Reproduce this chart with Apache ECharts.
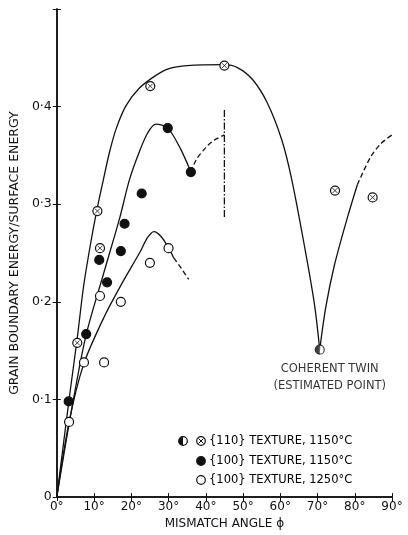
<!DOCTYPE html>
<html>
<head>
<meta charset="utf-8">
<script src="https://cdn.jsdelivr.net/npm/echarts@6/dist/echarts.min.js"></script>
<style>
  html, body { margin: 0; padding: 0; background: #fff; }
  #chart { width: 408px; height: 535px; }
</style>
</head>
<body>
<div id="chart"></div>
<script>
// tick labels
const xTickLabels = ['0°', '10°', '20°', '30°', '40°', '50°', '60°', '70°', '80°', '90°']
const yTickLabels = ['0', '0·1', '0·2', '0·3', '0·4', '']

// measured points [angle, energy ratio]
const tex110Cross = [[5.5, 0.158], [10.9, 0.293], [11.6, 0.255], [25.1, 0.421], [45.0, 0.442], [74.7, 0.314], [84.8, 0.307]]
const tex110Half = [[70.6, 0.151]]
const tex100At1150 = [[3.2, 0.098], [7.9, 0.167], [11.4, 0.243], [13.5, 0.220], [17.2, 0.252], [18.2, 0.280], [22.8, 0.311], [29.8, 0.378], [36.0, 0.333]]
const tex100At1250 = [[3.3, 0.077], [7.3, 0.138], [11.6, 0.206], [12.7, 0.138], [17.2, 0.200], [25.0, 0.240], [30.0, 0.255]]

// hand-drawn curves
const curve110Left = [[0, 0], [3.3, 0.100], [5.5, 0.163], [7.2, 0.216], [9.0, 0.258], [10.7, 0.293], [12.5, 0.325], [14.2, 0.354], [16.0, 0.378], [18.6, 0.401], [22.2, 0.419], [26.6, 0.432], [30.1, 0.439], [35.0, 0.442], [45.0, 0.443], [48.5, 0.440], [52.5, 0.428], [56.5, 0.404], [60.4, 0.366], [63.1, 0.325], [66.6, 0.255], [69.2, 0.197], [70.6, 0.151]]
const curve110Right = [[70.6, 0.151], [72.2, 0.194], [74.5, 0.237], [78.0, 0.286], [80.7, 0.320]]
const curve110RightDash = [[80.7, 0.320], [84.2, 0.348], [87.0, 0.362], [90.0, 0.371]]
const curve1150 = [[0, 0], [4.0, 0.090], [7.8, 0.165], [12.5, 0.228], [16.9, 0.286], [19.5, 0.325], [22.2, 0.354], [24.4, 0.373], [26.6, 0.382], [29.8, 0.378], [33.2, 0.357], [36.0, 0.333]]
const curve1150Dash = [[36.0, 0.333], [37.5, 0.346], [40.0, 0.358], [42.0, 0.365], [45.0, 0.371]]
const curve1250 = [[0, 0], [3.3, 0.077], [7.2, 0.136], [12.9, 0.186], [17.8, 0.221], [22.2, 0.250], [24.4, 0.266], [26.1, 0.272], [28.0, 0.267], [29.9, 0.256], [31.4, 0.245]]
const curve1250Dash = [[31.4, 0.245], [33.5, 0.234], [35.4, 0.223]]
const marker45 = [[45, 0.287], [45, 0.398]]

const legendRows = ['{110} TEXTURE, 1150°C', '{100} TEXTURE, 1150°C', '{100} TEXTURE, 1250°C']

const FONT = 'DejaVu Sans'
const INK = '#111'

const chart = echarts.init(document.getElementById('chart'))

const lineSeries = (data, dashed) => ({
  type: 'line',
  data: data,
  smooth: 0.3,
  symbol: 'none',
  silent: true,
  animation: false,
  lineStyle: { color: INK, width: 1.3, type: dashed ? [5, 3] : 'solid' },
  z: 2
})

const dotSeries = (data, fill) => ({
  type: 'scatter',
  data: data,
  symbol: 'circle',
  symbolSize: 9,
  silent: true,
  animation: false,
  itemStyle: { color: fill, borderColor: INK, borderWidth: 1.2, opacity: 1 },
  z: 5
})

const option = {
  backgroundColor: '#fff',
  grid: { left: 51, right: 16, top: 9, bottom: 35 },
  xAxis: [
    {
      type: 'value', min: 0, max: 90, interval: 10, position: 'bottom',
      name: 'MISMATCH ANGLE ϕ', nameLocation: 'middle', nameGap: 17,
      nameTextStyle: { fontFamily: FONT, fontSize: 12, color: INK },
      axisLine: { lineStyle: { color: INK, width: 1.5 } },
      axisTick: { inside: true, length: 4, lineStyle: { color: INK } },
      axisLabel: {
        fontFamily: FONT, fontSize: 12, color: INK, margin: 4,
        formatter: v => xTickLabels[Math.round(v / 10)]
      },
      splitLine: { show: false }
    },
    {
      type: 'value', min: 0, max: 90, interval: 10, position: 'top',
      axisLine: { lineStyle: { color: INK, width: 1.5 } },
      axisTick: { inside: true, length: 4, lineStyle: { color: INK } },
      axisLabel: { show: false },
      splitLine: { show: false }
    }
  ],
  yAxis: [
    {
      type: 'value', min: 0, max: 0.5, interval: 0.1, position: 'left',
      name: 'GRAIN BOUNDARY ENERGY/SURFACE ENERGY', nameLocation: 'middle', nameGap: 25,
      nameTextStyle: { fontFamily: FONT, fontSize: 12.5, color: INK },
      axisLine: { lineStyle: { color: INK, width: 1.5 } },
      axisTick: { inside: true, length: 4, lineStyle: { color: INK } },
      axisLabel: {
        fontFamily: FONT, fontSize: 12.5, color: INK, margin: 5,
        formatter: v => yTickLabels[Math.round(v * 10)]
      },
      splitLine: { show: false }
    },
    {
      type: 'value', min: 0, max: 0.5, interval: 0.1, position: 'right',
      axisLine: { lineStyle: { color: INK, width: 1.5 } },
      axisTick: { inside: true, length: 4, lineStyle: { color: INK } },
      axisLabel: { show: false },
      splitLine: { show: false }
    }
  ],
  series: [
    lineSeries(curve110Left, false),
    lineSeries(curve110Right, false),
    lineSeries(curve110RightDash, true),
    lineSeries(curve1150, false),
    lineSeries(curve1150Dash, true),
    lineSeries(curve1250, false),
    lineSeries(curve1250Dash, true),
    {
      type: 'line',
      data: marker45,
      symbol: 'none',
      silent: true,
      animation: false,
      lineStyle: { color: INK, width: 1.3, type: [7, 2, 1.5, 2] }
    },
    dotSeries(tex100At1150, INK),
    dotSeries(tex100At1250, '#fff'),
    dotSeries(tex110Cross, '#fff'),
    {
      type: 'scatter',
      data: tex110Cross,
      symbol: 'path://M0,0L10,10M10,0L0,10',
      symbolSize: 5,
      silent: true,
      animation: false,
      itemStyle: { color: 'none', borderColor: INK, borderWidth: 1 },
      z: 6
    },
    {
      type: 'scatter',
      data: tex110Half,
      symbol: 'circle',
      symbolSize: 9,
      silent: true,
      animation: false,
      itemStyle: { color: '#fff', borderColor: INK, borderWidth: 1.2 },
      label: {
        show: true,
        position: 'bottom',
        distance: 6,
        offset: [10, 0],
        formatter: 'COHERENT TWIN\n(ESTIMATED POINT)',
        fontFamily: FONT, fontSize: 11.5, lineHeight: 17, color: '#000', align: 'center'
      },
      z: 5
    },
    {
      type: 'scatter',
      data: tex110Half,
      symbol: 'path://M5,0A5,5 0 0 0 5,10Z',
      symbolSize: [4.5, 9],
      symbolOffset: [-2.25, 0],
      silent: true,
      animation: false,
      itemStyle: { color: INK },
      z: 6
    }
  ],
  graphic: [
    { type: 'circle', shape: { cx: 183, cy: 441, r: 4.3 }, style: { fill: '#fff', stroke: INK, lineWidth: 1.2 } },
    { type: 'sector', shape: { cx: 183, cy: 441, r: 4.3, r0: 0, startAngle: Math.PI / 2, endAngle: Math.PI * 1.5 }, style: { fill: INK } },
    { type: 'circle', shape: { cx: 201, cy: 441, r: 4.3 }, style: { fill: '#fff', stroke: INK, lineWidth: 1.2 } },
    { type: 'line', shape: { x1: 198.5, y1: 438.5, x2: 203.5, y2: 443.5 }, style: { stroke: INK, lineWidth: 1 } },
    { type: 'line', shape: { x1: 203.5, y1: 438.5, x2: 198.5, y2: 443.5 }, style: { stroke: INK, lineWidth: 1 } },
    { type: 'circle', shape: { cx: 201, cy: 461, r: 4.3 }, style: { fill: INK, stroke: INK, lineWidth: 1.2 } },
    { type: 'circle', shape: { cx: 201, cy: 480, r: 4.3 }, style: { fill: '#fff', stroke: INK, lineWidth: 1.2 } },
    { type: 'text', x: 209, y: 441, style: { text: legendRows[0], font: '11.5px "DejaVu Sans"', fill: '#000', verticalAlign: 'middle' } },
    { type: 'text', x: 209, y: 461, style: { text: legendRows[1], font: '11.5px "DejaVu Sans"', fill: '#000', verticalAlign: 'middle' } },
    { type: 'text', x: 209, y: 480, style: { text: legendRows[2], font: '11.5px "DejaVu Sans"', fill: '#000', verticalAlign: 'middle' } }
  ]
}

chart.setOption(option)
</script>
</body>
</html>
